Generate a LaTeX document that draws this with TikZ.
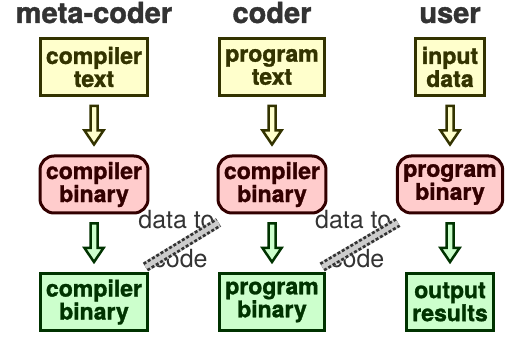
\documentclass[tikz,border=0pt]{standalone}
\usepackage{fontspec}
\setmainfont{TeX Gyre Heros}[BoldFeatures={FakeBold=1.3}]
\usetikzlibrary{calc}
\definecolor{srcfill}{HTML}{FFFFCC}
\definecolor{srcline}{HTML}{333300}
\definecolor{binfill}{HTML}{FFCCCC}
\definecolor{binline}{HTML}{330000}
\definecolor{exefill}{HTML}{CCFFCC}
\definecolor{exeline}{HTML}{003300}
\definecolor{headgray}{HTML}{333333}
\tikzset{
  stage/.style={line width=3pt, align=center, inner xsep=6pt, minimum height=57pt,
    font=\bfseries\fontsize{23}{23}\selectfont},
  srcbox/.style={stage, draw=srcline, fill=srcfill, text=srcline},
  binbox/.style={stage, draw=binline, fill=binfill, text=binline, rounded corners=14pt},
  exebox/.style={stage, draw=exeline, fill=exefill, text=exeline},
  role/.style={font=\bfseries\fontsize{29}{29}\selectfont, text=headgray, anchor=base},
  % hollow block arrow from one box down to the next
  flow/.style={line width=2.5pt, line join=miter, to path={
    ([xshift=-3.5pt, yshift=-9pt]\tikztostart.south)
    -- ([xshift=-3.5pt, yshift=24pt]\tikztotarget.north) -- ++(-6,0)
    -- ([yshift=10pt]\tikztotarget.north) -- ++(9.5,-14) -- ++(-6,0)
    -- ([xshift=3.5pt, yshift=-9pt]\tikztostart.south) -- cycle}},
  d2ctext/.style={font=\fontsize{25}{25}\selectfont, text=headgray, anchor=base},
  d2c/.style={line width=10pt, draw=black!80, dash pattern=on 3pt off 2pt,
    preaction={draw=gray!40, solid, line width=10pt},
    postaction={draw=gray!40, solid, line width=4.5pt}}
}
\begin{document}
\begin{tikzpicture}[x=1pt,y=-1pt]
\useasboundingbox (0,0) rectangle (516,344);
% one column per role: source, binary, result
\foreach \i/\x/\who/\src/\bin/\exe in {
  1/94/meta-coder/{compiler\\text}/{compiler\\binary}/{compiler\\binary},
  2/272/coder/{program\\text}/{compiler\\binary}/{program\\binary},
  3/450/user/{input\\data}/{program\\binary}/{output\\results}} {
  \node[role] (r\i) at (\x,23) {\who};
  \node[srcbox] (s\i) at (\x,67) {\src};
  \node[binbox] (b\i) at (\x,184.5) {\bin};
  \node[exebox] (e\i) at (\x,302) {\exe};
  \draw[flow, draw=srcline, fill=srcfill] (s\i) to (b\i);
  \draw[flow, draw=exeline, fill=exefill] (b\i) to (e\i);
}

% a result of one column turns into the binary of the next
\foreach \a/\b in {e1/b2, e2/b3} {
  \node[d2ctext] (dt\a) at ($(\a.north east)+(27,-43)$) {data to};
  \node[d2ctext] (cd\a) at ($(\a.north east)+(31,-4)$) {code};
  \draw[d2c] ([shift={(-4,-5)}]\a.north east) -- ([shift={(2,8)}]\b.south west);
}
\end{tikzpicture}
\end{document}
